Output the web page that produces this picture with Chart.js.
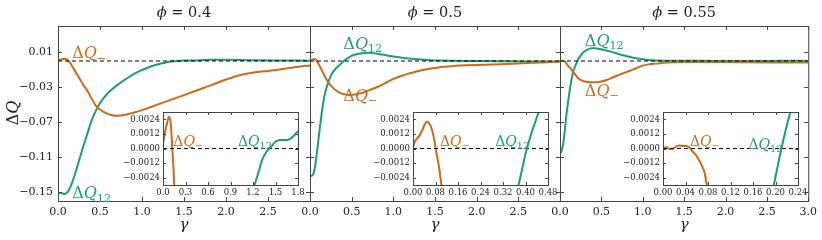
<!DOCTYPE html>
<html>
<head>
<meta charset="utf-8">
<script src="https://cdn.jsdelivr.net/npm/chart.js@4.4.0/dist/chart.umd.min.js"></script>
<style>
  body { margin: 0; background: #fff; }
  #wrap { position: relative; width: 822px; height: 240px; }
  #wrap canvas { position: absolute; left: 0; top: 0; }
</style>
</head>
<body>
<div id="wrap"></div>
<script>
// ---- data ----
const phiValues = ['0.4', '0.5', '0.55'];
const mainXTicks = [0, 0.5, 1, 1.5, 2, 2.5, 3];
const mainYTicks = [0.01, -0.03, -0.07, -0.11, -0.15];
const insetYTicks = [0.0024, 0.0012, 0, -0.0012, -0.0024];
const insetXTicks04 = [0, 0.3, 0.6, 0.9, 1.2, 1.5, 1.8];
const insetXTicks05 = [0, 0.08, 0.16, 0.24, 0.32, 0.40, 0.48];
const insetXTicks055 = [0, 0.04, 0.08, 0.12, 0.16, 0.20, 0.24];

// phi = 0.4
const gamma04Minus = [0, 0.03, 0.062, 0.08, 0.098, 0.111, 0.124, 0.142, 0.16, 0.2, 0.25, 0.3, 0.35, 0.4, 0.45, 0.5, 0.56, 0.62, 0.68, 0.75, 0.82, 0.9, 1.0, 1.1, 1.2, 1.3, 1.4, 1.5, 1.6, 1.7, 1.8, 1.9, 2.0, 2.1, 2.2, 2.3, 2.4, 2.5, 2.6, 2.7, 2.8, 2.9, 3.0];
const dQ04Minus = [0.0004, 0.0014, 0.0023, 0.0026, 0.0023, 0.0014, 0.0, -0.0019, -0.0045, -0.011, -0.019, -0.027, -0.034, -0.043, -0.051, -0.0555, -0.059, -0.0615, -0.0625, -0.0622, -0.061, -0.0592, -0.0562, -0.0528, -0.0493, -0.0458, -0.0424, -0.039, -0.0355, -0.032, -0.0285, -0.0248, -0.0212, -0.018, -0.0155, -0.0137, -0.0123, -0.0113, -0.0102, -0.0088, -0.0073, -0.006, -0.0052];
const gamma04Twelve = [0, 0.04, 0.08, 0.12, 0.16, 0.2, 0.25, 0.3, 0.35, 0.4, 0.45, 0.5, 0.55, 0.6, 0.66, 0.75, 0.85, 0.95, 1.05, 1.15, 1.222, 1.276, 1.32, 1.387, 1.44, 1.498, 1.564, 1.63, 1.698, 1.751, 1.8, 2.0, 2.3, 2.6, 3.0];
const dQ04Twelve = [-0.1505, -0.151, -0.152, -0.149, -0.141, -0.130, -0.114, -0.098, -0.083, -0.068, -0.057, -0.048, -0.0415, -0.036, -0.031, -0.0245, -0.018, -0.0125, -0.0083, -0.0048, -0.003, -0.0019, -0.00096, -0.0002, 0.00014, 0.00055, 0.0007, 0.0007, 0.0008, 0.0011, 0.0014, 0.0013, 0.0009, 0.0006, 0.0004];

// phi = 0.5
const gamma05Minus = [0, 0.006, 0.014, 0.024, 0.033, 0.042, 0.05, 0.06, 0.068, 0.075, 0.083, 0.093, 0.101, 0.12, 0.16, 0.2, 0.24, 0.28, 0.32, 0.36, 0.41, 0.46, 0.52, 0.58, 0.64, 0.72, 0.8, 0.9, 1.0, 1.1, 1.2, 1.3, 1.4, 1.5, 1.6, 1.75, 1.88, 2.1, 2.28, 2.5, 2.68, 2.85, 3.0];
const dQ05Minus = [0.00005, 0.00055, 0.0008, 0.0011, 0.0015, 0.002, 0.0022, 0.002, 0.0015, 0.0008, -0.0003, -0.0016, -0.003, -0.0065, -0.014, -0.0215, -0.027, -0.031, -0.034, -0.0365, -0.038, -0.0388, -0.0385, -0.0375, -0.036, -0.033, -0.030, -0.0255, -0.0205, -0.0168, -0.014, -0.0115, -0.0095, -0.008, -0.0066, -0.0055, -0.0049, -0.0042, -0.0036, -0.0028, -0.0021, -0.0013, -0.0007];
const gamma05Twelve = [0, 0.02, 0.04, 0.06, 0.08, 0.1, 0.12, 0.14, 0.16, 0.18, 0.21, 0.24, 0.27, 0.3, 0.34, 0.375, 0.405, 0.447, 0.5, 0.56, 0.62, 0.7, 0.76, 0.84, 0.92, 1.02, 1.12, 1.25, 1.4, 1.55, 1.68, 2.0, 2.28, 2.6, 3.0];
const dQ05Twelve = [-0.131, -0.131, -0.129, -0.121, -0.107, -0.091, -0.075, -0.060, -0.047, -0.037, -0.027, -0.019, -0.0135, -0.0095, -0.0058, -0.003, 0.0, 0.003, 0.0058, 0.0078, 0.0088, 0.0093, 0.009, 0.0078, 0.0064, 0.0048, 0.0035, 0.0022, 0.0011, 0.0005, 0.0002, -0.0001, -0.0003, -0.0005, -0.0006];

// phi = 0.55
const gamma055Minus = [0, 0.006, 0.012, 0.018, 0.0235, 0.029, 0.035, 0.041, 0.047, 0.053, 0.058, 0.062, 0.068, 0.074, 0.078, 0.09, 0.1, 0.12, 0.14, 0.18, 0.22, 0.28, 0.36, 0.44, 0.5, 0.56, 0.62, 0.68, 0.76, 0.84, 0.92, 1.0, 1.08, 1.16, 1.3, 1.48, 1.7, 1.88, 2.1, 2.28, 2.6, 3.0];
const dQ055Minus = [0.00005, 0.0001, -0.00005, 0.0, 0.00016, 0.00025, 0.0002, 0.0002, 0.00008, -0.00027, -0.0005, -0.0008, -0.0013, -0.002, -0.003, -0.0045, -0.0058, -0.0078, -0.0102, -0.015, -0.0198, -0.0228, -0.0243, -0.0243, -0.0235, -0.0217, -0.0195, -0.0171, -0.0142, -0.0114, -0.0083, -0.0053, -0.0038, -0.003, -0.0018, -0.0011, -0.001, -0.0011, -0.0013, -0.0015, -0.0017, -0.0018];
const gamma055Twelve = [0, 0.01, 0.02, 0.04, 0.055, 0.07, 0.085, 0.1, 0.115, 0.13, 0.15, 0.17, 0.185, 0.197, 0.2105, 0.2265, 0.25, 0.28, 0.33, 0.38, 0.43, 0.48, 0.54, 0.6, 0.68, 0.76, 0.84, 0.92, 1.04, 1.16, 1.28, 1.5, 1.88, 2.3, 2.7, 3.0];
const dQ055Twelve = [-0.1055, -0.1045, -0.1025, -0.094, -0.082, -0.068, -0.056, -0.045, -0.035, -0.026, -0.016, -0.0095, -0.0055, -0.003, 0.0, 0.003, 0.0062, 0.0098, 0.0128, 0.0145, 0.0146, 0.0138, 0.0124, 0.011, 0.0088, 0.0066, 0.0048, 0.0031, 0.0015, 0.0006, 0.0002, 0.0003, 0.0001, 0.0, 0.0002, 0.0001];

// ---- styling ----
const ORANGE = '#cc6a1a';
const GREEN = '#1b9e77';
const FONT = 'DejaVu Serif';
const FRAME = '#444';
const LBL_MINUS = [['Δ', 0, 0], ['Q', 1, 0], ['−', 0, 1]];
const LBL_12 = [['Δ', 0, 0], ['Q', 1, 0], ['12', 0, 1]];

const wrap = document.getElementById('wrap');

function pts(g, v) {
  return g.map((x, i) => ({ x: x, y: v[i] }));
}

function fmt(v, d) {
  return v.toFixed(d).replace('-', '\u2212');
}

function richWidth(ctx, parts, size) {
  let w = 0;
  for (const [t, it, sub] of parts) {
    ctx.font = (it ? 'italic ' : '') + (sub ? size * 0.7 : size) + 'px "' + FONT + '"';
    w += ctx.measureText(t).width;
  }
  return w;
}

function drawRich(ctx, x, y, parts, size, color, center) {
  ctx.save();
  ctx.fillStyle = color;
  ctx.textBaseline = 'alphabetic';
  ctx.textAlign = 'left';
  let cx = center ? x - richWidth(ctx, parts, size) / 2 : x;
  for (const [t, it, sub] of parts) {
    ctx.font = (it ? 'italic ' : '') + (sub ? size * 0.7 : size) + 'px "' + FONT + '"';
    ctx.fillText(t, cx, sub ? y + size * 0.22 : y);
    cx += ctx.measureText(t).width;
  }
  ctx.restore();
}

function decor(cfg) {
  return {
    id: 'decor',
    beforeDraw(chart) {
      if (!cfg.fill) return;
      const a = chart.chartArea;
      chart.ctx.fillStyle = '#fff';
      chart.ctx.fillRect(a.left, a.top, a.right - a.left, a.bottom - a.top);
    },
    afterDraw(chart) {
      const ctx = chart.ctx, a = chart.chartArea;
      const xs = chart.scales.x, ys = chart.scales.y;
      ctx.save();
      ctx.strokeStyle = FRAME;
      ctx.lineWidth = 1;
      ctx.strokeRect(a.left + 0.5, a.top + 0.5, a.right - a.left, a.bottom - a.top);
      ctx.beginPath();
      const L = cfg.tickLen;
      xs.ticks.forEach(t => {
        const p = Math.round(xs.getPixelForValue(t.value)) + 0.5;
        ctx.moveTo(p, a.bottom); ctx.lineTo(p, a.bottom - L);
        ctx.moveTo(p, a.top); ctx.lineTo(p, a.top + L);
      });
      ys.ticks.forEach(t => {
        const p = Math.round(ys.getPixelForValue(t.value)) + 0.5;
        ctx.moveTo(a.left, p); ctx.lineTo(a.left + L, p);
        ctx.moveTo(a.right, p); ctx.lineTo(a.right - L, p);
      });
      ctx.stroke();
      ctx.restore();

      cfg.labels.forEach(l => {
        drawRich(ctx, xs.getPixelForValue(l.x), ys.getPixelForValue(l.y) + 0.36 * l.size,
          l.parts, l.size, l.color, false);
      });

      if (cfg.title) {
        const cx = (a.left + a.right) / 2;
        drawRich(ctx, cx, 17, [['ϕ', 1, 0], [' = ' + cfg.title, 0, 0]], 14.5, '#222', true);
        drawRich(ctx, cx, 229, [['γ', 1, 0]], 15, '#222', true);
      }
      if (cfg.yTitle) {
        ctx.save();
        ctx.translate(18, 113);
        ctx.rotate(-Math.PI / 2);
        drawRich(ctx, 0, 0, [['Δ', 0, 0], ['Q', 1, 0]], 16, '#222', true);
        ctx.restore();
      }
    }
  };
}

function makeChart(o) {
  const c = document.createElement('canvas');
  c.width = 822;
  c.height = 240;
  wrap.appendChild(c);
  const lineDs = (data, color) => ({
    data: data, borderColor: color, borderWidth: 2, pointRadius: 0,
    cubicInterpolationMode: 'monotone', fill: false
  });
  return new Chart(c, {
    type: 'line',
    data: {
      datasets: [
        { data: [{ x: o.xMin, y: 0 }, { x: o.xMax, y: 0 }], borderColor: '#000', borderWidth: 1,
          borderDash: [4, 3], pointRadius: 0, fill: false },
        lineDs(o.minus, ORANGE),
        lineDs(o.twelve, GREEN)
      ]
    },
    options: {
      responsive: false,
      animation: false,
      devicePixelRatio: 1,
      layout: { padding: o.padding },
      plugins: { legend: { display: false }, tooltip: { enabled: false }, title: { display: false } },
      scales: {
        x: {
          type: 'linear', min: o.xMin, max: o.xMax,
          afterBuildTicks: s => { s.ticks = o.xTicks.map(v => ({ value: v })); },
          afterFit: s => { s.height = o.xH; },
          grid: { display: false, drawTicks: false },
          border: { display: false },
          ticks: {
            autoSkip: false, maxRotation: 0, padding: o.xPad, color: '#222',
            font: { family: FONT, size: o.tickSize },
            callback: o.xFmt
          }
        },
        y: {
          type: 'linear', min: o.yMin, max: o.yMax,
          afterBuildTicks: s => { s.ticks = o.yTicks.map(v => ({ value: v })); },
          afterFit: s => { s.width = o.yW; },
          grid: { display: false, drawTicks: false },
          border: { display: false },
          ticks: {
            display: o.yLabels, padding: o.yPad, color: '#222',
            font: { family: FONT, size: o.tickSize },
            callback: o.yFmt
          }
        }
      }
    },
    plugins: [decor(o.decor)]
  });
}

// ---- panel layout ----
const mainLeft = [58, 310, 560];
const mainRight = [310, 560, 810];
const insetLeft = [163, 413, 663];
const insetW = 135;

const panelData = [
  { gm: gamma04Minus, vm: dQ04Minus, g12: gamma04Twelve, v12: dQ04Twelve, insetX: insetXTicks04, insetDec: 1,
    mainLbl: [[0.17, 0.0098, LBL_MINUS, ORANGE], [0.17, -0.150, LBL_12, GREEN]],
    insetLbl: [[0.137, 0.0006, LBL_MINUS, ORANGE], [1.0, 0.0006, LBL_12, GREEN]] },
  { gm: gamma05Minus, vm: dQ05Minus, g12: gamma05Twelve, v12: dQ05Twelve, insetX: insetXTicks05, insetDec: 2,
    mainLbl: [[0.4, 0.0206, LBL_12, GREEN], [0.4, -0.0388, LBL_MINUS, ORANGE]],
    insetLbl: [[0.096, 0.0006, LBL_MINUS, ORANGE], [0.292, 0.0006, LBL_12, GREEN]] },
  { gm: gamma055Minus, vm: dQ055Minus, g12: gamma055Twelve, v12: dQ055Twelve, insetX: insetXTicks055, insetDec: 2,
    mainLbl: [[0.3, 0.024, LBL_12, GREEN], [0.3, -0.033, LBL_MINUS, ORANGE]],
    insetLbl: [[0.048, 0.0006, LBL_MINUS, ORANGE], [0.152, 0.0004, LBL_12, GREEN]] }
];

const toLabels = (arr, size) => arr.map(([x, y, parts, color]) => ({ x, y, parts, color, size }));

panelData.forEach((p, i) => {
  const first = i === 0;
  const last = i === panelData.length - 1;
  makeChart({
    minus: pts(p.gm, p.vm), twelve: pts(p.g12, p.v12),
    xMin: 0, xMax: 3, yMin: -0.16, yMax: 0.04,
    xTicks: mainXTicks, yTicks: mainYTicks,
    xFmt: v => (!last && v === 3) ? '' : v.toFixed(1),
    yFmt: v => fmt(v, 2),
    yLabels: first, tickSize: 11, xPad: 5, yPad: 5,
    yW: first ? 58 : 0, xH: 39,
    padding: { left: first ? 0 : mainLeft[i], right: 822 - mainRight[i], top: 26, bottom: 0 },
    decor: { fill: false, tickLen: 4, labels: toLabels(p.mainLbl, 16), title: phiValues[i], yTitle: first }
  });
});

panelData.forEach((p, i) => {
  const xMax = p.insetX[p.insetX.length - 1];
  makeChart({
    minus: pts(p.gm, p.vm), twelve: pts(p.g12, p.v12),
    xMin: 0, xMax: xMax, yMin: -0.003, yMax: 0.003,
    xTicks: p.insetX, yTicks: insetYTicks,
    xFmt: v => v.toFixed(p.insetDec),
    yFmt: v => fmt(v, 4),
    yLabels: true, tickSize: 8.5, xPad: 3, yPad: 3,
    yW: 40, xH: 15,
    padding: { left: insetLeft[i] - 40, right: 822 - insetLeft[i] - insetW, top: 112, bottom: 40 },
    decor: { fill: true, tickLen: 3, labels: toLabels(p.insetLbl, 14), title: null, yTitle: false }
  });
});
</script>
</body>
</html>
